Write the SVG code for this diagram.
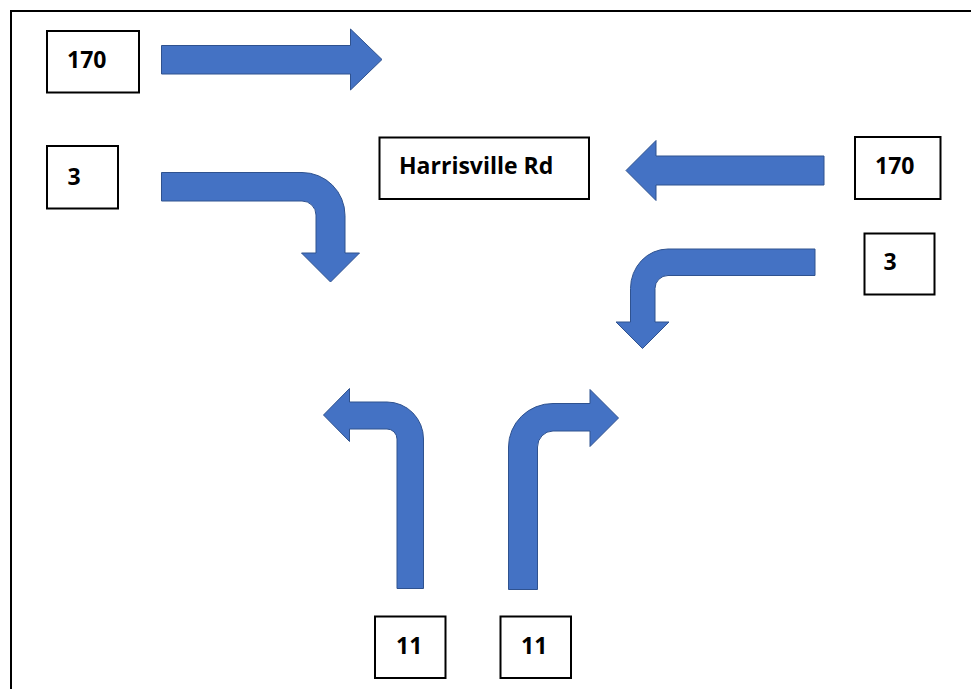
<svg xmlns="http://www.w3.org/2000/svg" width="971" height="689" viewBox="0 0 971 689">
  <style>
    .box { fill: #ffffff; stroke: #000000; stroke-width: 2; }
    .lbl { font-family: "Open Sans", "Liberation Sans", sans-serif; font-weight: bold; font-size: 23px; fill: #000000; }
    .arrow { fill: #4472C4; stroke: #2F528F; stroke-width: 1; stroke-linejoin: miter; }
  </style>
  <rect width="971" height="689" fill="#ffffff"/>
  <!-- outer frame: only top and left edges are in view -->
  <path d="M11,700 V11 H990" fill="none" stroke="#000000" stroke-width="2"/>

  <g id="connectors">
    <!-- 170 through, heading east (top left) -->
    <path id="arrow-170-thru-east" class="arrow" d="M161.5,45.5 H350.5 V29 L382,59.5 L350.5,90 V74 H161.5 Z"/>
    <!-- 170 through, heading west (right) -->
    <path id="arrow-170-thru-west" class="arrow" d="M824,156 H656 V140.5 L626,170.5 L656,200.5 V185 H824 Z"/>
    <!-- route 3 from left, turning down -->
    <path id="arrow-3-left-turn" class="arrow" d="M161.5,172.5 H302 A43,43 0 0 1 345,215.5 V253 H359.5 L330.5,282 L301.5,253 H316 V215 A14,14 0 0 0 302,201 H161.5 Z"/>
    <!-- route 3 from right, turning down -->
    <path id="arrow-3-right-turn" class="arrow" d="M815,249 H668 A37.5,39.5 0 0 0 630.5,288.5 V322 H616 L642.5,348.5 L669,322 H655 V288.5 A13,13 0 0 1 668,275.5 H815 Z"/>
    <!-- route 11 northbound, turning left -->
    <path id="arrow-11-left" class="arrow" d="M397,588.5 V439 A10,10 0 0 0 387,429 H349.5 V441.5 L323.5,415 L349.5,388.5 V402 H387 A36.5,37 0 0 1 423.5,439 V588.5 Z"/>
    <!-- route 11 northbound, turning right -->
    <path id="arrow-11-right" class="arrow" d="M508.5,589.5 V447 A44.5,43.5 0 0 1 553,403.5 H590 V389.5 L618.5,418 L590,446.5 V431 H553 A15.5,16 0 0 0 537.5,447 V589.5 Z"/>
  </g>

  <g id="node-170-left">
    <rect class="box" x="47" y="31" width="92" height="61.5"/>
    <text class="lbl" x="67" y="67.5">170</text>
  </g>
  <g id="node-3-left">
    <rect class="box" x="47" y="146" width="71" height="62.5"/>
    <text class="lbl" x="67.5" y="184.5">3</text>
  </g>
  <g id="node-harrisville">
    <rect class="box" x="379.5" y="137.5" width="209.5" height="61.5"/>
    <text class="lbl" x="399" y="173.5">Harrisville Rd</text>
  </g>
  <g id="node-170-right">
    <rect class="box" x="855" y="137" width="85.5" height="62"/>
    <text class="lbl" x="875" y="173.5">170</text>
  </g>
  <g id="node-3-right">
    <rect class="box" x="864.5" y="233.5" width="70" height="61"/>
    <text class="lbl" x="883.5" y="269.5">3</text>
  </g>
  <g id="node-11-left">
    <rect class="box" x="375" y="616.5" width="70.5" height="61.5"/>
    <text class="lbl" x="396" y="654">11</text>
  </g>
  <g id="node-11-right">
    <rect class="box" x="500.5" y="616.5" width="70.5" height="61.5"/>
    <text class="lbl" x="521" y="654">11</text>
  </g>
</svg>
